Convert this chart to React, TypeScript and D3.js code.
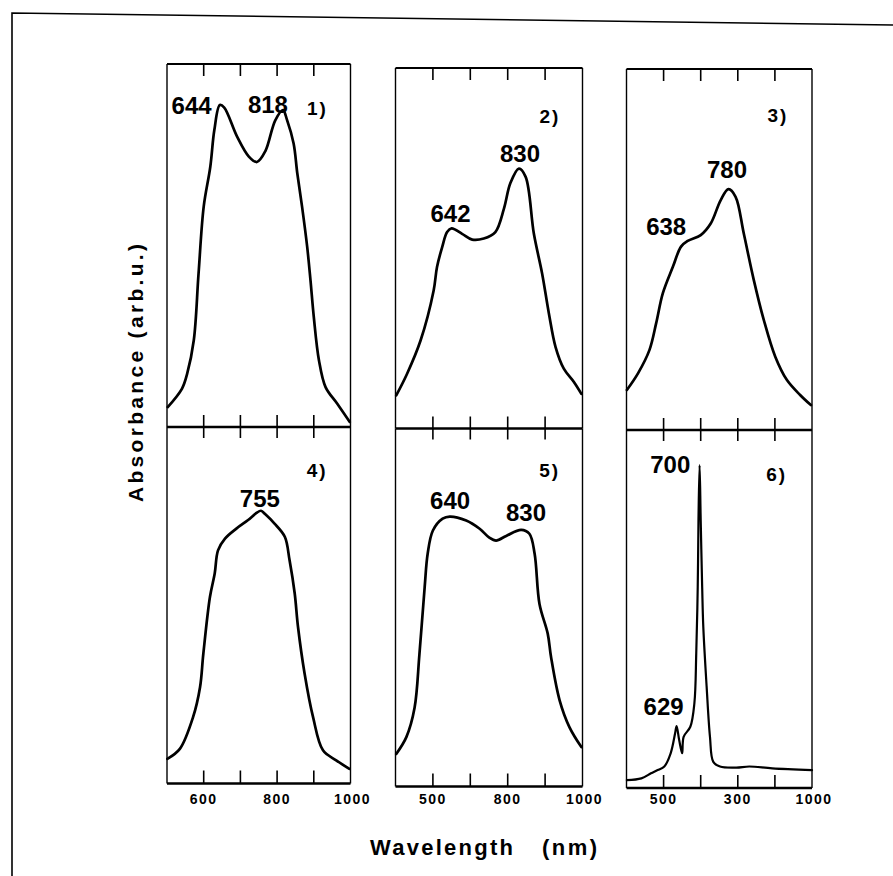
import * as d3 from 'd3';

// absorbance spectra: [wavelength (nm), absorbance (arb.u., 0..1 of panel height)]
const spectrum1: [number, number][] = [
  [502, 0.055], [541, 0.106], [555, 0.147], [573, 0.239], [586, 0.423], [600, 0.607], [618, 0.717],
  [629, 0.818], [644, 0.887], [656, 0.88], [691, 0.80], [723, 0.745], [745, 0.73], [768, 0.76],
  [795, 0.845], [816, 0.873], [827, 0.846], [845, 0.781], [855, 0.699], [868, 0.607], [882, 0.496],
  [891, 0.404], [900, 0.303], [914, 0.184], [932, 0.11], [964, 0.064], [998, 0.014],
];
const spectrum2: [number, number][] = [
  [502, 0.092], [531, 0.152], [567, 0.244], [602, 0.383], [611, 0.448], [625, 0.504], [638, 0.545],
  [650, 0.555], [678, 0.54], [705, 0.524], [736, 0.527], [767, 0.545], [790, 0.61], [807, 0.68],
  [830, 0.721], [848, 0.698], [870, 0.54], [892, 0.43], [910, 0.32], [928, 0.226], [950, 0.166],
  [977, 0.129], [997, 0.096],
];
const spectrum3: [number, number][] = [
  [501, 0.111], [531, 0.157], [562, 0.222], [580, 0.296], [598, 0.379], [625, 0.452], [647, 0.508],
  [665, 0.524], [700, 0.54], [727, 0.572], [754, 0.637], [775, 0.667], [794, 0.646], [816, 0.545],
  [843, 0.416], [870, 0.305], [901, 0.203], [932, 0.139], [968, 0.097], [997, 0.069],
];
const spectrum4: [number, number][] = [
  [501, 0.069], [535, 0.097], [571, 0.186], [590, 0.27], [599, 0.364], [617, 0.523], [630, 0.589],
  [639, 0.654], [658, 0.687], [689, 0.715], [721, 0.739], [744, 0.759], [756, 0.765], [768, 0.755],
  [793, 0.729], [821, 0.692], [834, 0.626], [848, 0.533], [857, 0.439], [875, 0.308], [898, 0.186],
  [925, 0.093], [961, 0.065], [997, 0.041],
];
const spectrum5: [number, number][] = [
  [502, 0.091], [529, 0.138], [551, 0.22], [564, 0.37], [578, 0.557], [586, 0.65], [600, 0.715],
  [626, 0.748], [645, 0.754], [689, 0.743], [725, 0.72], [750, 0.696], [769, 0.687], [796, 0.70],
  [836, 0.717], [858, 0.706], [872, 0.65], [885, 0.51], [907, 0.427], [916, 0.361], [939, 0.24],
  [965, 0.166], [997, 0.11],
];
const spectrum6: [number, number][] = [
  [501, 0.022], [540, 0.027], [566, 0.041], [584, 0.05], [602, 0.06], [619, 0.097], [631, 0.153],
  [635, 0.173], [642, 0.134], [650, 0.097], [654, 0.143], [672, 0.171], [683, 0.237], [688, 0.376],
  [692, 0.562], [694, 0.749], [697, 0.902], [700, 0.749], [704, 0.56], [707, 0.45], [716, 0.283],
  [725, 0.143], [734, 0.073], [752, 0.06], [796, 0.057], [831, 0.06], [893, 0.055], [1000, 0.05],
];

// peak annotations, anchored in data space (wavelength, absorbance)
const peaks1 = [{ text: '644', wl: 567, v: 0.862 }, { text: '818', wl: 775, v: 0.865 }];
const peaks2 = [{ text: '642', wl: 647, v: 0.572 }, { text: '830', wl: 833, v: 0.739 }];
const peaks3 = [{ text: '638', wl: 607, v: 0.54 }, { text: '780', wl: 771, v: 0.698 }];
const peaks4 = [{ text: '755', wl: 753, v: 0.775 }];
const peaks5 = [{ text: '640', wl: 646, v: 0.775 }, { text: '830', wl: 849, v: 0.742 }];
const peaks6 = [{ text: '700', wl: 618, v: 0.88 }, { text: '629', wl: 600, v: 0.204 }];

const panelNames = ['1)', '2)', '3)', '4)', '5)', '6)'];
const panelNamePos = [
  { wl: 910, v: 0.86 }, { wl: 913, v: 0.847 }, { wl: 908, v: 0.853 },
  { wl: 909, v: 0.86 }, { wl: 912, v: 0.865 }, { wl: 905, v: 0.857 },
];

const tickValues = [600, 700, 800, 900];
const tickLabelValues = [600, 800, 1000];
// the scan prints these as read (600 printed as 500 etc.)
const tickLabels = [
  ['600', '800', '1000'],
  ['500', '800', '1000'],
  ['500', '300', '1000'],
];

const spectra = [spectrum1, spectrum2, spectrum3, spectrum4, spectrum5, spectrum6];
const peaks = [peaks1, peaks2, peaks3, peaks4, peaks5, peaks6];

// column geometry (the scan is slightly tilted, so each column sits a little lower)
const colLeft = [167, 395.5, 626.5];
const colRight = [350.5, 582.5, 812];
const colTop = [64, 68, 69];
const colMid = [427, 428.5, 430];
const colBottom = [783.5, 786.5, 788];

const font = '"Liberation Sans", Arial, sans-serif';

function Panel({ idx }: { idx: number }) {
  const col = idx % 3;
  const row = Math.floor(idx / 3);
  const x = d3.scaleLinear().domain([500, 1000]).range([colLeft[col], colRight[col]]);
  const y = d3.scaleLinear().domain([0, 1]).range(
    row === 0 ? [colMid[col], colTop[col]] : [colBottom[col], colMid[col]]
  );
  const line = d3.line<[number, number]>()
    .x(d => x(d[0]))
    .y(d => y(d[1]))
    .curve(d3.curveCatmullRom.alpha(0.5));

  const top = y(1);
  const bot = y(0);

  return (
    <g>
      {/* side frame lines */}
      <line x1={x(500)} x2={x(500)} y1={top} y2={bot} stroke="#000" strokeWidth={1.4} />
      <line x1={x(1000)} x2={x(1000)} y1={top} y2={bot} stroke="#000" strokeWidth={1.4} />
      {row === 0 ? (
        <line x1={x(500)} x2={x(1000)} y1={top} y2={top} stroke="#000" strokeWidth={2} />
      ) : (
        <line x1={x(500)} x2={x(1000)} y1={bot} y2={bot} stroke="#000" strokeWidth={2.6} />
      )}
      {row === 0 && (
        <line x1={x(500)} x2={x(1000)} y1={bot} y2={bot} stroke="#000" strokeWidth={2.6} />
      )}
      {tickValues.map(t => (
        row === 0 ? (
          <g key={t}>
            <line x1={x(t)} x2={x(t)} y1={top} y2={top + 12} stroke="#000" strokeWidth={1.6} />
            <line x1={x(t)} x2={x(t)} y1={bot - 12} y2={bot + 11} stroke="#000" strokeWidth={1.6} />
          </g>
        ) : (
          <line key={t} x1={x(t)} x2={x(t)} y1={bot} y2={bot - 13} stroke="#000" strokeWidth={1.6} />
        )
      ))}
      <path d={line(spectra[idx]) ?? ''} fill="none" stroke="#000"
        strokeWidth={idx === 5 ? 2.2 : 2.7} strokeLinejoin="round" strokeLinecap="round" />
      {peaks[idx].map((p, i) => (
        <text key={i} x={x(p.wl)} y={y(p.v)} textAnchor="middle" fontFamily={font}
          fontWeight="bold" fontSize={24} fill="#000">{p.text}</text>
      ))}
      <text x={x(panelNamePos[idx].wl)} y={y(panelNamePos[idx].v)} textAnchor="middle"
        fontFamily={font} fontWeight="bold" fontSize={19} letterSpacing={2} fill="#000">
        {panelNames[idx]}
      </text>
      {row === 1 && tickLabelValues.map((t, i) => (
        <text key={t} x={x(t) + (t === 1000 ? 2 : 0)} y={804} textAnchor="middle"
          fontFamily={font} fontWeight="bold" fontSize={14} letterSpacing={1.5} fill="#000">
          {tickLabels[col][i]}
        </text>
      ))}
    </g>
  );
}

export default function App() {
  return (
    <svg width={893} height={876} style={{ position: 'absolute', left: 0, top: 0, background: '#fff' }}>
      <rect x={0} y={0} width={893} height={876} fill="#fff" />
      {/* outer frame of the scanned figure */}
      <polyline points="893,25 12,13 12,876" fill="none" stroke="#000" strokeWidth={1.6} />
      {d3.range(6).map(i => <Panel key={i} idx={i} />)}
      <text transform="translate(143,373) rotate(-90)" textAnchor="middle" fontFamily={font}
        fontWeight="bold" fontSize={21} textLength={258} lengthAdjust="spacing" fill="#000">
        Absorbance (arb.u.)
      </text>
      <text x={370} y={855} fontFamily={font} fontWeight="bold" fontSize={22}
        textLength={143} lengthAdjust="spacing" fill="#000">Wavelength</text>
      <text x={542} y={855} fontFamily={font} fontWeight="bold" fontSize={22}
        textLength={55} lengthAdjust="spacing" fill="#000">(nm)</text>
    </svg>
  );
}
